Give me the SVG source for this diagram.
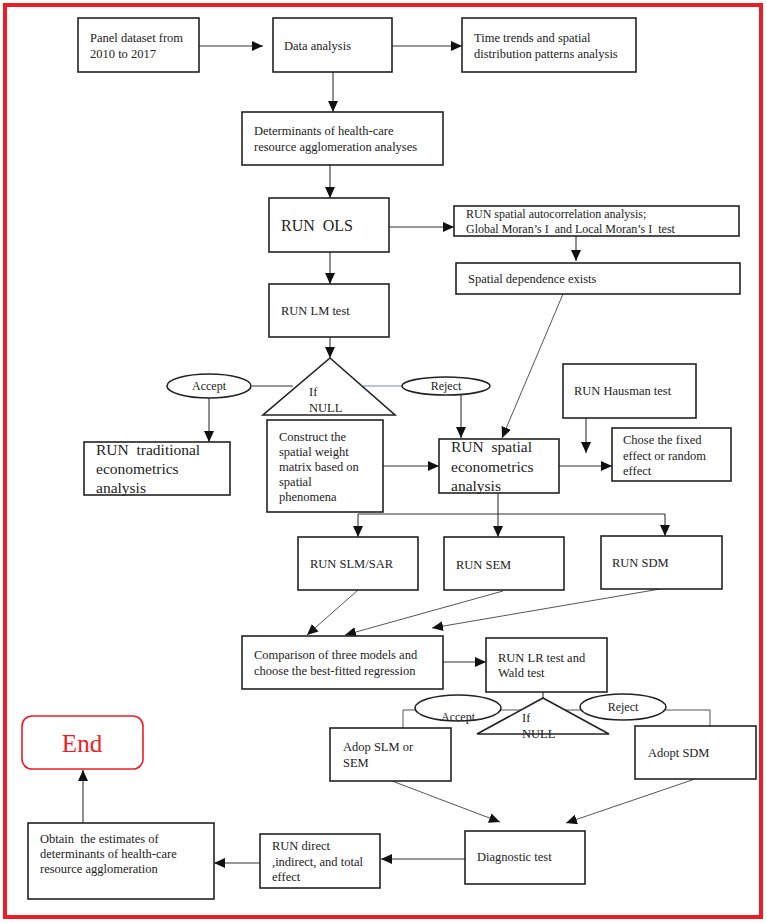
<svg xmlns="http://www.w3.org/2000/svg" width="767" height="923" viewBox="0 0 767 923">
<style>
.b{fill:#fff;stroke:#222;stroke-width:1.6}
.t{font-family:"Liberation Serif","Times New Roman",serif;font-size:12.5px;fill:#222}
.s{font-size:12px}
.L{font-size:15.5px}
.c{stroke:#333;stroke-width:1.1;fill:none}
.d{stroke:#555;stroke-width:1;fill:none}
</style>
<defs>
<marker id="a" markerUnits="userSpaceOnUse" markerWidth="12" markerHeight="10" refX="11" refY="5" orient="auto">
<path d="M0,0 L11,5 L0,10 Z" fill="#111"/>
</marker>
</defs>
<rect x="0" y="0" width="767" height="923" fill="#fff"/>
<rect x="5" y="5" width="756" height="912" fill="none" stroke="#ee1c24" stroke-width="4"/>

<g id="connectors">
<line class="c" x1="199" y1="46" x2="263" y2="46" marker-end="url(#a)"/>
<line class="c" x1="392" y1="46" x2="462" y2="46" marker-end="url(#a)"/>
<line class="c" x1="333" y1="72" x2="333" y2="112" marker-end="url(#a)"/>
<line class="c" x1="330" y1="165" x2="330" y2="198" marker-end="url(#a)"/>
<line class="c" x1="389" y1="227" x2="454" y2="227" marker-end="url(#a)"/>
<line class="c" x1="330" y1="252" x2="330" y2="284" marker-end="url(#a)"/>
<line class="c" x1="576" y1="236" x2="576" y2="261" marker-end="url(#a)"/>
<line class="c" x1="330" y1="337" x2="330" y2="358" marker-end="url(#a)"/>
<line class="d" x1="563" y1="294" x2="502" y2="438" marker-end="url(#a)"/>
<line class="c" x1="252" y1="386" x2="293" y2="386"/>
<line x1="363" y1="386" x2="402" y2="386" stroke="#6b8fd0" stroke-width="1"/>
<line class="c" x1="209" y1="398" x2="209" y2="442" marker-end="url(#a)"/>
<line class="c" x1="461" y1="394" x2="461" y2="438" marker-end="url(#a)"/>
<line class="c" x1="383" y1="466" x2="439" y2="466" marker-end="url(#a)"/>
<line class="c" x1="586" y1="418" x2="586" y2="453" marker-end="url(#a)"/>
<line class="c" x1="559" y1="466" x2="612" y2="466" marker-end="url(#a)"/>
<polyline class="c" points="498,493 498,514"/>
<polyline class="c" points="358,514 665,514"/>
<line class="c" x1="358" y1="514" x2="358" y2="537" marker-end="url(#a)"/>
<line class="c" x1="498" y1="514" x2="498" y2="537" marker-end="url(#a)"/>
<line class="c" x1="665" y1="514" x2="665" y2="536" marker-end="url(#a)"/>
<line class="d" x1="358" y1="590" x2="307" y2="635" marker-end="url(#a)"/>
<line class="d" x1="503" y1="591" x2="345" y2="635" marker-end="url(#a)"/>
<line class="d" x1="660" y1="589" x2="432" y2="628" marker-end="url(#a)"/>
<line class="c" x1="443" y1="662" x2="486" y2="662" marker-end="url(#a)"/>
<line class="c" x1="543" y1="692" x2="543" y2="698"/>
<polyline class="d" points="415,710 403,710 403,728"/>
<line class="d" x1="501" y1="710" x2="521" y2="710"/>
<line class="d" x1="565" y1="710" x2="580" y2="710"/>
<polyline class="d" points="666,710 710,710 710,726"/>
<line class="d" x1="392" y1="781" x2="500" y2="822" marker-end="url(#a)"/>
<line class="d" x1="695" y1="779" x2="566" y2="823" marker-end="url(#a)"/>
<line class="c" x1="465" y1="859" x2="381" y2="859" marker-end="url(#a)"/>
<line class="c" x1="260" y1="863" x2="214" y2="863" marker-end="url(#a)"/>
<line class="c" x1="83" y1="823" x2="83" y2="770" marker-end="url(#a)"/>
</g>

<g id="panel"><rect class="b" x="78" y="18" width="121" height="54"/>
<text class="t" x="90" y="42">Panel dataset from</text><text class="t" x="90" y="58">2010 to 2017</text></g>
<g id="data"><rect class="b" x="273" y="18" width="119" height="54"/>
<text class="t" x="284" y="50">Data analysis</text></g>
<g id="trends"><rect class="b" x="462" y="18" width="174" height="54"/>
<text class="t" x="474" y="42">Time trends and spatial</text><text class="t" x="474" y="58">distribution patterns analysis</text></g>
<g id="determinants"><rect class="b" x="242" y="112" width="201" height="53"/>
<text class="t" x="254" y="135">Determinants of health-care</text><text class="t" x="254" y="151">resource agglomeration analyses</text></g>
<g id="ols"><rect class="b" x="269" y="198" width="120" height="54"/>
<text class="t" x="281" y="231" style="font-size:16px" xml:space="preserve">RUN  OLS</text></g>
<g id="lm"><rect class="b" x="269" y="284" width="120" height="53"/>
<text class="t" x="281" y="315">RUN LM test</text></g>
<g id="ifnull1"><polygon points="330,358 395,415 263,415" fill="#fff" stroke="#222" stroke-width="1.6"/>
<text class="t" x="309" y="396">If</text><text class="t" x="309" y="412">NULL</text></g>
<g id="accept1"><ellipse cx="209" cy="386" rx="42" ry="12" fill="#fff" stroke="#222" stroke-width="1.6"/>
<text class="t s" x="209" y="390" text-anchor="middle">Accept</text></g>
<g id="reject1"><ellipse cx="446" cy="386" rx="44" ry="9" fill="#fff" stroke="#222" stroke-width="1.6"/>
<text class="t s" x="446" y="390" text-anchor="middle">Reject</text></g>
<g id="traditional"><rect class="b" x="84" y="442" width="146" height="53"/>
<text class="t L" x="96" y="455" xml:space="preserve">RUN  traditional</text><text class="t L" x="96" y="474">econometrics</text><text class="t L" x="96" y="493">analysis</text></g>
<g id="construct"><rect class="b" x="267" y="420" width="116" height="92"/>
<text class="t" x="279" y="441">Construct the</text><text class="t" x="279" y="456">spatial weight</text><text class="t" x="279" y="471">matrix based on</text><text class="t" x="279" y="486">spatial</text><text class="t" x="279" y="501">phenomena</text></g>
<g id="spatialecon"><rect class="b" x="439" y="439" width="120" height="54"/>
<text class="t L" x="451" y="452" xml:space="preserve">RUN  spatial</text><text class="t L" x="451" y="472">econometrics</text><text class="t L" x="451" y="491">analysis</text></g>
<g id="autocorr"><rect class="b" x="454" y="206" width="285" height="30"/>
<text class="t s" x="466" y="218">RUN spatial autocorrelation analysis;</text><text class="t s" x="466" y="233" xml:space="preserve">Global Moran’s I  and Local Moran’s I  test</text></g>
<g id="spatialdep"><rect class="b" x="456" y="263" width="284" height="31"/>
<text class="t" x="468" y="283">Spatial dependence exists</text></g>
<g id="hausman"><rect class="b" x="563" y="364" width="133" height="54"/>
<text class="t" x="574" y="395">RUN Hausman test</text></g>
<g id="chose"><rect class="b" x="612" y="428" width="119" height="53"/>
<text class="t" x="623" y="444">Chose the fixed</text><text class="t" x="623" y="460">effect or random</text><text class="t" x="623" y="475">effect</text></g>
<g id="slm"><rect class="b" x="298" y="537" width="120" height="53"/>
<text class="t" x="310" y="568">RUN SLM/SAR</text></g>
<g id="sem"><rect class="b" x="444" y="537" width="120" height="53"/>
<text class="t" x="456" y="569">RUN SEM</text></g>
<g id="sdm"><rect class="b" x="601" y="536" width="121" height="53"/>
<text class="t" x="612" y="567">RUN SDM</text></g>
<g id="comparison"><rect class="b" x="242" y="636" width="201" height="53"/>
<text class="t" x="254" y="659">Comparison of three models and</text><text class="t" x="254" y="675">choose the best-fitted regression</text></g>
<g id="lr"><rect class="b" x="486" y="638" width="121" height="54"/>
<text class="t" x="498" y="662">RUN LR test and</text><text class="t" x="498" y="677">Wald test</text></g>
<g id="ifnull2"><polygon points="543,698 609,734 477,734" fill="#fff" stroke="#222" stroke-width="1.6"/>
<text class="t" x="522" y="722">If</text><text class="t" x="522" y="738">NULL</text></g>
<g id="accept2"><ellipse cx="458" cy="708" rx="43" ry="13" fill="#fff" stroke="#222" stroke-width="1.6"/>
<text class="t s" x="458" y="721" text-anchor="middle">Accept</text></g>
<g id="reject2"><ellipse cx="623" cy="707" rx="43" ry="13" fill="#fff" stroke="#222" stroke-width="1.6"/>
<text class="t s" x="623" y="711" text-anchor="middle">Reject</text></g>
<g id="adopslm"><rect class="b" x="330" y="728" width="121" height="53"/>
<text class="t" x="343" y="751">Adop SLM or</text><text class="t" x="343" y="767">SEM</text></g>
<g id="adoptsdm"><rect class="b" x="635" y="726" width="121" height="53"/>
<text class="t" x="648" y="757">Adopt SDM</text></g>
<g id="diagnostic"><rect class="b" x="465" y="831" width="120" height="53"/>
<text class="t" x="477" y="861">Diagnostic test</text></g>
<g id="direct"><rect class="b" x="260" y="834" width="120" height="54"/>
<text class="t" x="272" y="850">RUN direct</text><text class="t" x="272" y="866">,indirect, and total</text><text class="t" x="272" y="881">effect</text></g>
<g id="obtain"><rect class="b" x="28" y="823" width="186" height="76"/>
<text class="t" x="40" y="843" xml:space="preserve">Obtain  the estimates of</text><text class="t" x="40" y="858">determinants of health-care</text><text class="t" x="40" y="873">resource agglomeration</text></g>
<g id="end"><rect x="22" y="716" width="121" height="53" rx="10" fill="#fff" stroke="#ee1c24" stroke-width="1.6"/>
<text x="82" y="752" text-anchor="middle" style="font-family:'Liberation Serif','Times New Roman',serif;font-size:25px;fill:#ee1c24">End</text></g>
</svg>
